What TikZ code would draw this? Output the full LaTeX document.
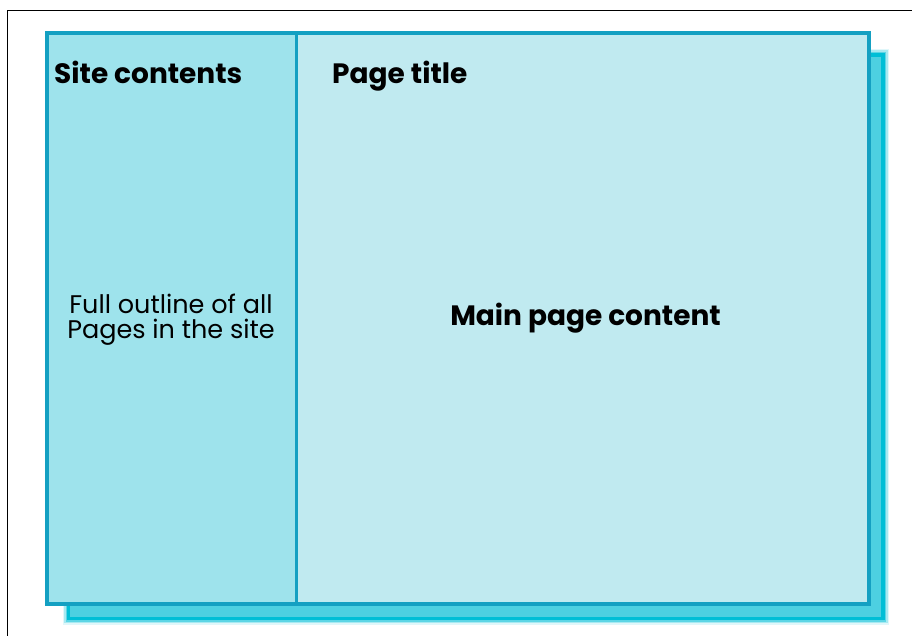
\documentclass[tikz,border=0pt]{standalone}
\usepackage{fontspec}
\setmainfont{Poppins}
\definecolor{edgeblue}{HTML}{14A0C2}
\definecolor{sitefill}{HTML}{9EE3EC}
\definecolor{mainfill}{HTML}{C0EAF0}
\definecolor{shadowfill}{HTML}{4DD0E1}
\definecolor{shadowedge}{HTML}{00BED6}
\tikzset{
	panel/.style={draw=edgeblue, line width=3.5pt, inner sep=0pt, minimum height=571pt},
	heading/.style={font=\bfseries\fontsize{28}{32}\selectfont, inner sep=0pt},
	bodytext/.style={font=\fontsize{25.5}{25}\selectfont, align=center, inner sep=0pt}
}
\begin{document}
\begin{tikzpicture}[x=1pt, y=-1pt]
		\useasboundingbox (0,0) rectangle (912,636);
		%page frame
		\draw[line width=1.5pt] (7.5,636) -- (7.5,10.5) -- (912,10.5);
		
		%shadow behind the page
		\foreach \w/\o in {12/0.12, 9/0.25, 6/0.45}{
			\draw[shadowedge, line width=\w pt, opacity=\o] (68.5,55) rectangle (883,618.5);
		}
		\node[draw=shadowedge, fill=shadowfill, line width=3.5pt, inner sep=0pt, minimum width=814.5pt, minimum height=563.5pt] (shadow) at (475.75,336.75) {};
		
		%panels
		\node[panel, fill=mainfill, minimum width=822pt] (main) at (458,318.5) {};
		\node[panel, fill=sitefill, minimum width=249.5pt] (site) at (171.75,318.5) {};
		
		%labels
		\node[heading, anchor=base west] (sitetitle) at (54,84) {Site contents};
		\node[heading, anchor=base west] (pagetitle) at (332,84) {Page title};
		\node[heading, anchor=base] (content) at (585.5,325) {Main page content};
		\node[bodytext] (outline) at (171,319.5) {Full outline of all\\Pages in the site};
\end{tikzpicture}
\end{document}
